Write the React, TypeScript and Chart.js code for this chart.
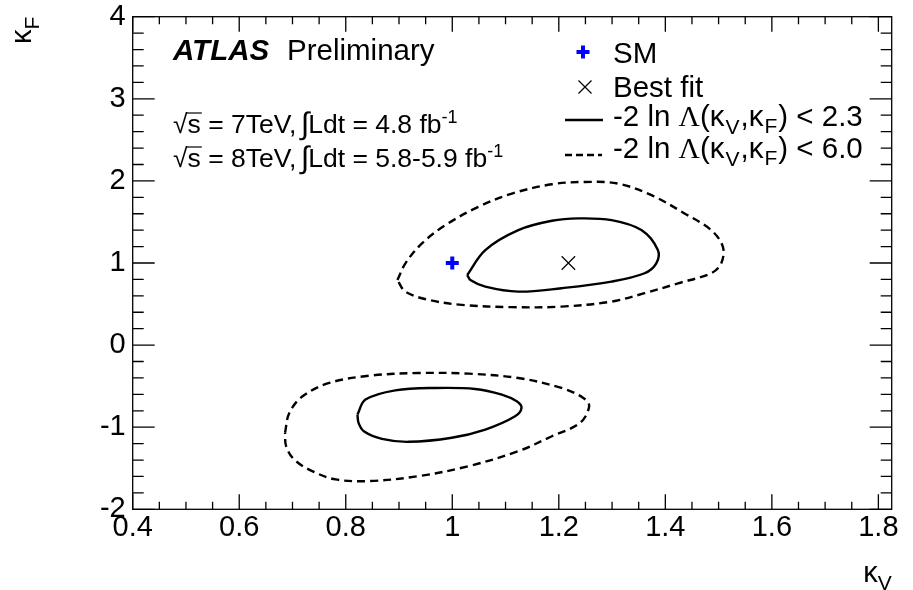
import React, { useEffect, useRef } from "react";
import { Chart, registerables } from "chart.js";

Chart.register(...registerables);

// ---- axis ticks ----
const xTickValues = [0.4, 0.6, 0.8, 1.0, 1.2, 1.4, 1.6, 1.8];
const xTickLabels = ["0.4", "0.6", "0.8", "1", "1.2", "1.4", "1.6", "1.8"];
const yTickValues = [-2, -1, 0, 1, 2, 3, 4];
const yTickLabels = ["-2", "-1", "0", "1", "2", "3", "4"];
const xMin = 0.4;
const xMax = 1.825;
const yMin = -2;
const yMax = 4;
const xMinorStep = 0.05;
const yMinorStep = 0.2;

// ---- contours (kappa_V, kappa_F) ----
const upperInnerKV = [1.028, 1.062, 1.124, 1.187, 1.237, 1.299, 1.355, 1.386, 1.383, 1.361, 1.299, 1.205, 1.124, 1.062, 1.034];
const upperInnerKF = [0.854, 1.158, 1.401, 1.514, 1.543, 1.522, 1.401, 1.158, 0.996, 0.875, 0.773, 0.693, 0.651, 0.712, 0.793];

const upperOuterKV = [0.897, 0.912, 0.943, 0.987, 1.049, 1.112, 1.187, 1.249, 1.311, 1.374, 1.436, 1.486, 1.508, 1.505, 1.486, 1.424, 1.361, 1.299, 1.205, 1.112, 1.018, 0.956, 0.912];
const upperOuterKF = [0.793, 0.996, 1.239, 1.461, 1.684, 1.846, 1.959, 1.987, 1.968, 1.826, 1.604, 1.401, 1.198, 0.996, 0.875, 0.753, 0.632, 0.530, 0.469, 0.462, 0.490, 0.550, 0.651];

const lowerInnerKV = [0.822, 0.837, 0.893, 0.968, 1.043, 1.093, 1.121, 1.130, 1.118, 1.062, 0.999, 0.918, 0.868, 0.834, 0.824];
const lowerInnerKF = [-0.846, -0.664, -0.551, -0.522, -0.534, -0.603, -0.685, -0.765, -0.867, -1.029, -1.129, -1.178, -1.142, -1.049, -0.947];

const lowerOuterKV = [0.686, 0.694, 0.719, 0.769, 0.844, 0.937, 1.031, 1.124, 1.205, 1.246, 1.257, 1.240, 1.187, 1.124, 1.031, 0.937, 0.844, 0.781, 0.737, 0.703, 0.688];
const lowerOuterKF = [-1.069, -0.826, -0.624, -0.461, -0.373, -0.340, -0.348, -0.401, -0.522, -0.643, -0.745, -0.947, -1.110, -1.292, -1.474, -1.596, -1.656, -1.636, -1.535, -1.393, -1.231];

const smKV = [1.0];
const smKF = [1.0];
const bestFitKV = [1.218];
const bestFitKF = [1.0];

// ---- texts ----
const legendLabels = ["SM", "Best fit"];
const legendCL = ["2.3", "6.0"];
const energies = ["7TeV,", "8TeV,"];
const lumis = ["4.8", "5.8-5.9"];

const SANS = "'Liberation Sans', Arial, Helvetica, sans-serif";
const SERIF = "'Liberation Serif', 'Times New Roman', serif";

function closed(kv: number[], kf: number[]) {
  const pts = kv.map((x, i) => ({ x, y: kf[i] }));
  pts.push({ x: kv[0], y: kf[0] });
  return pts;
}

type Seg = { t: string; f: string; dy?: number; gap?: number };
function drawRich(ctx: CanvasRenderingContext2D, x: number, y: number, segs: Seg[]) {
  let cx = x;
  for (const s of segs) {
    cx += s.gap || 0;
    ctx.font = s.f;
    ctx.fillText(s.t, cx, y + (s.dy || 0));
    cx += ctx.measureText(s.t).width;
  }
  return cx;
}
function richWidth(ctx: CanvasRenderingContext2D, segs: Seg[]) {
  let w = 0;
  for (const s of segs) {
    ctx.font = s.f;
    w += ctx.measureText(s.t).width + (s.gap || 0);
  }
  return w;
}

const frameTicks = {
  id: "frameTicks",
  afterDatasetsDraw(chart: any) {
    const { ctx, chartArea: a, scales } = chart;
    const xs = scales.x;
    const ys = scales.y;
    ctx.save();
    ctx.strokeStyle = "#000";
    ctx.lineWidth = 1.3;
    ctx.strokeRect(a.left, a.top, a.right - a.left, a.bottom - a.top);
    ctx.beginPath();
    for (let i = 0; ; i++) {
      const v = xMin + i * xMinorStep;
      if (v > xMax + 1e-9) break;
      const len = i % 4 === 0 ? 15 : 7.5;
      const px = xs.getPixelForValue(v);
      ctx.moveTo(px, a.bottom);
      ctx.lineTo(px, a.bottom - len);
      ctx.moveTo(px, a.top);
      ctx.lineTo(px, a.top + len);
    }
    for (let i = 0; ; i++) {
      const v = yMin + i * yMinorStep;
      if (v > yMax + 1e-9) break;
      const len = i % 5 === 0 ? 22 : 11;
      const py = ys.getPixelForValue(v);
      ctx.moveTo(a.left, py);
      ctx.lineTo(a.left + len, py);
      ctx.moveTo(a.right, py);
      ctx.lineTo(a.right - len, py);
    }
    ctx.stroke();
    ctx.restore();
  },
  afterDraw(chart: any) {
    const { ctx, chartArea: a } = chart;
    ctx.save();
    ctx.fillStyle = "#000";
    ctx.strokeStyle = "#000";
    ctx.textBaseline = "alphabetic";
    ctx.textAlign = "left";

    // ATLAS Preliminary
    ctx.font = `italic bold 29.5px ${SANS}`;
    ctx.fillText("ATLAS", 173, 60);
    ctx.font = `29.5px ${SANS}`;
    ctx.fillText("Preliminary", 287, 60);

    // lumi lines
    const rowsY = [133, 167];
    rowsY.forEach((yy, k) => {
      const f = `26.5px ${SANS}`;
      ctx.font = f;
      const wr = ctx.measureText("\u221A").width;
      const ws = ctx.measureText("s").width;
      drawRich(ctx, 173, yy, [
        { t: "\u221A", f },
        { t: "s", f },
        { t: " = " + energies[k] + " ", f },
        { t: "\u222B", f: `31px ${SANS}`, dy: 1, gap: -3 },
        { t: "Ldt = " + lumis[k] + " fb", f, gap: -1 },
        { t: "-1", f: `18px ${SANS}`, dy: -10 },
      ]);
      ctx.lineWidth = 1.2;
      ctx.beginPath();
      ctx.moveTo(173 + wr - 1, yy - 20);
      ctx.lineTo(173 + wr + ws + 1, yy - 20);
      ctx.stroke();
    });

    // legend
    const lx = 613;
    const fl = `29.5px ${SANS}`;
    // SM marker
    ctx.strokeStyle = "#0000ff";
    ctx.lineWidth = 4;
    ctx.beginPath();
    ctx.moveTo(583 - 6.5, 52);
    ctx.lineTo(583 + 6.5, 52);
    ctx.moveTo(583, 52 - 6.5);
    ctx.lineTo(583, 52 + 6.5);
    ctx.stroke();
    ctx.font = fl;
    ctx.fillText(legendLabels[0], lx, 63);
    // best fit marker
    ctx.strokeStyle = "#000";
    ctx.lineWidth = 1.2;
    ctx.beginPath();
    ctx.moveTo(585 - 6.5, 87 - 6.5);
    ctx.lineTo(585 + 6.5, 87 + 6.5);
    ctx.moveTo(585 + 6.5, 87 - 6.5);
    ctx.lineTo(585 - 6.5, 87 + 6.5);
    ctx.stroke();
    ctx.font = fl;
    ctx.fillText(legendLabels[1], lx, 97);
    // contour lines
    ctx.lineWidth = 2.4;
    ctx.beginPath();
    ctx.moveTo(565, 120);
    ctx.lineTo(603, 120);
    ctx.stroke();
    ctx.setLineDash([7, 4]);
    ctx.beginPath();
    ctx.moveTo(565, 155);
    ctx.lineTo(602, 155);
    ctx.stroke();
    ctx.setLineDash([]);
    const fsub = `21px ${SANS}`;
    const rows = [126, 158];
    rows.forEach((yy, k) => {
      drawRich(ctx, lx, yy, [
        { t: "-2 ln ", f: fl },
        { t: "\u039B", f: `29.5px ${SERIF}` },
        { t: "(\u03BA", f: fl },
        { t: "V", f: fsub, dy: 8, gap: 1 },
        { t: ",\u03BA", f: fl, gap: 1 },
        { t: "F", f: fsub, dy: 7, gap: 1 },
        { t: ") < " + legendCL[k], f: fl, gap: 1 },
      ]);
    });

    // axis titles
    const xt: Seg[] = [
      { t: "\u03BA", f: `29px ${SANS}` },
      { t: "V", f: `21px ${SANS}`, dy: 8 },
    ];
    const wx = richWidth(ctx, xt);
    drawRich(ctx, a.right - wx, 582, xt);
    const yt: Seg[] = [
      { t: "\u03BA", f: `29px ${SANS}` },
      { t: "F", f: `21px ${SANS}`, dy: 8 },
    ];
    const wy = richWidth(ctx, yt);
    ctx.translate(31, a.top + wy);
    ctx.rotate(-Math.PI / 2);
    drawRich(ctx, 0, 0, yt);
    ctx.restore();
  },
};

export default function App() {
  const ref = useRef<HTMLCanvasElement | null>(null);

  useEffect(() => {
    document.body.style.margin = "0";
    const canvas = ref.current;
    if (!canvas) return;
    const contourStyle = {
      showLine: true,
      fill: false,
      pointRadius: 0,
      pointHoverRadius: 0,
      borderColor: "#000",
      borderWidth: 2.4,
      tension: 0.35,
    };
    const chart = new Chart(canvas, {
      type: "scatter",
      data: {
        datasets: [
          { ...contourStyle, label: "upper 2.3", data: closed(upperInnerKV, upperInnerKF) },
          { ...contourStyle, label: "upper 6.0", borderDash: [8, 5], data: closed(upperOuterKV, upperOuterKF) },
          { ...contourStyle, label: "lower 2.3", data: closed(lowerInnerKV, lowerInnerKF) },
          { ...contourStyle, label: "lower 6.0", borderDash: [8, 5], data: closed(lowerOuterKV, lowerOuterKF) },
          {
            label: "SM",
            data: smKV.map((x, i) => ({ x, y: smKF[i] })),
            pointStyle: "cross",
            pointRadius: 6.5,
            pointBorderWidth: 4,
            borderColor: "#0000ff",
            backgroundColor: "#0000ff",
            showLine: false,
          },
          {
            label: "Best fit",
            data: bestFitKV.map((x, i) => ({ x, y: bestFitKF[i] })),
            pointStyle: "crossRot",
            pointRadius: 9.5,
            pointBorderWidth: 1.2,
            borderColor: "#000",
            backgroundColor: "#000",
            showLine: false,
          },
        ],
      },
      options: {
        responsive: false,
        animation: false,
        devicePixelRatio: 1,
        layout: { padding: { top: 16.7, right: 21.3, bottom: 0, left: 0 } },
        plugins: { legend: { display: false }, tooltip: { enabled: false } },
        events: [],
        scales: {
          x: {
            type: "linear",
            min: xMin,
            max: xMax,
            grid: { display: false, drawTicks: false },
            border: { display: false },
            ticks: {
              color: "#000",
              font: { family: SANS, size: 29 },
              padding: 1,
              maxRotation: 0,
              autoSkip: false,
              callback: (v: any) => {
                const i = xTickValues.findIndex((t) => Math.abs(t - Number(v)) < 1e-6);
                return i >= 0 ? xTickLabels[i] : "";
              },
            },
            afterBuildTicks: (s: any) => {
              s.ticks = xTickValues.map((value) => ({ value }));
            },
            afterFit: (s: any) => {
              s.height = 590 - 509.3;
              s.paddingLeft = 0;
              s.paddingRight = 0;
            },
          },
          y: {
            type: "linear",
            min: yMin,
            max: yMax,
            grid: { display: false, drawTicks: false },
            border: { display: false },
            ticks: {
              color: "#000",
              font: { family: SANS, size: 29 },
              padding: 7,
              autoSkip: false,
              callback: (v: any) => {
                const i = yTickValues.findIndex((t) => Math.abs(t - Number(v)) < 1e-6);
                return i >= 0 ? yTickLabels[i] : "";
              },
            },
            afterBuildTicks: (s: any) => {
              s.ticks = yTickValues.map((value) => ({ value }));
            },
            afterFit: (s: any) => {
              s.width = 132.7;
              s.paddingTop = 0;
              s.paddingBottom = 0;
            },
          },
        },
      },
      plugins: [frameTicks],
    } as any);
    return () => chart.destroy();
  }, []);

  return <canvas ref={ref} width={913} height={590} style={{ display: "block" }} />;
}
